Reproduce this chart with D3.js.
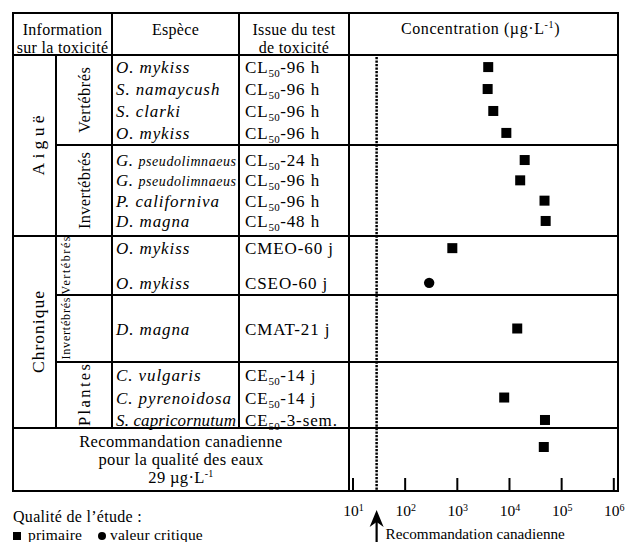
<!DOCTYPE html>
<html><head><meta charset="utf-8">
<script src="https://cdn.jsdelivr.net/npm/d3@7"></script>
<style>
body{margin:0;background:#fff}
svg{display:block}
text{font-family:"Liberation Serif","Times New Roman","DejaVu Serif",serif;fill:#000}
</style>
</head><body><script>
// ---------------- DATA ----------------
const groups = ["Aiguë", "Chronique"];
const subgroups = ["Vertébrés", "Invertébrés", "Vertébrés", "Invertébrés", "Plantes"];
const subgroupGroup = [0, 0, 1, 1, 1];
const species = ["O. mykiss", "S. namaycush", "S. clarki", "O. mykiss",
  "G. pseudolimnaeus", "G. pseudolimnaeus", "P. californiva", "D. magna",
  "O. mykiss", "O. mykiss", "D. magna",
  "C. vulgaris", "C. pyrenoidosa", "S. capricornutum"];
const tests = ["CL_50-96 h", "CL_50-96 h", "CL_50-96 h", "CL_50-96 h",
  "CL_50-24 h", "CL_50-96 h", "CL_50-96 h", "CL_50-48 h",
  "CMEO-60 j", "CSEO-60 j", "CMAT-21 j",
  "CE_50-14 j", "CE_50-14 j", "CE_50-3-sem."];
const rowSubgroup = [0, 0, 0, 0, 1, 1, 1, 1, 2, 2, 3, 4, 4, 4];
const concentrations = [4000, 3900, 5000, 8900, 20000, 16400, 48000, 50500, 820, 295, 14400, null, 8100, 49000];
const quality = ["primaire", "primaire", "primaire", "primaire", "primaire", "primaire", "primaire", "primaire",
  "primaire", "valeur critique", "primaire", "primaire", "primaire", "primaire"];
const guidelineValue = 29;
const guidelineRowValue = 46500;
const guidelineText = ["Recommandation canadienne", "pour la qualité des eaux", "29 µg·L|-1"];
const tickExponents = [1, 2, 3, 4, 5, 6];
const legendTitle = "Qualité de l’étude :";
const legendItems = ["primaire", "valeur critique"];
const smallEpithets = ["pseudolimnaeus"];

// ---------------- LAYOUT ----------------
const W = 626, H = 542;
const X = {left: 13, c1: 56, c2: 112, c3: 239, c4: 349, right: 618};
const Y = {top: 13, head: 55, rec: 428, bottom: 491};
const subBounds = [55, 145, 236, 295, 362, 428];
const subPadding = [0.55, 0.74, 0.35, 0.5, 0.47];
const subAlign = [0.5, 0.5, 0.5, 0.5, 0.62];
const subLabelLen = [66, 77, 58, 62, 62];
const groupLabelLen = [60, 82];

const svg = d3.select("body").append("svg").attr("width", W).attr("height", H);
const x = d3.scaleLog().domain([10, 1e6]).range([352.5, 613.3]);

// row positions
const rowY = new Array(species.length);
subgroups.forEach((s, i) => {
  const idx = d3.range(species.length).filter(r => rowSubgroup[r] === i);
  const sc = d3.scalePoint().domain(idx).range([subBounds[i], subBounds[i + 1]])
    .padding(subPadding[i]).align(subAlign[i]);
  idx.forEach(r => rowY[r] = sc(r));
});

// ---------------- GRID ----------------
const lines = [];
lines.push([X.left, Y.head, X.right, Y.head]);
for (let i = 1; i < subgroups.length; i++) {
  const startX = subgroupGroup[i] !== subgroupGroup[i - 1] ? X.left : X.c1;
  lines.push([startX, subBounds[i], X.right, subBounds[i]]);
}
lines.push([X.left, Y.rec, X.right, Y.rec]);
lines.push([X.c1, Y.head, X.c1, Y.rec]);
lines.push([X.c2, Y.top, X.c2, Y.rec]);
lines.push([X.c3, Y.top, X.c3, Y.rec]);
lines.push([X.c4, Y.top, X.c4, Y.bottom]);
svg.append("g").selectAll("line").data(lines).join("line")
  .attr("x1", d => d[0]).attr("y1", d => d[1]).attr("x2", d => d[2]).attr("y2", d => d[3])
  .attr("stroke", "#000").attr("stroke-width", 2);
svg.append("rect").attr("x", X.left).attr("y", Y.top).attr("width", X.right - X.left).attr("height", Y.bottom - Y.top)
  .attr("fill", "none").attr("stroke", "#000").attr("stroke-width", 2);

// ---------------- HEADER ----------------
const hdr = svg.append("g").attr("font-size", 16).attr("letter-spacing", 0.3).attr("text-anchor", "middle");
hdr.append("text").attr("x", (X.left + X.c2) / 2).attr("y", 35).text("Information");
hdr.append("text").attr("x", (X.left + X.c2) / 2).attr("y", 53).text("sur la toxicité");
hdr.append("text").attr("x", (X.c2 + X.c3) / 2).attr("y", 35).text("Espèce");
hdr.append("text").attr("x", (X.c3 + X.c4) / 2).attr("y", 35).text("Issue du test");
hdr.append("text").attr("x", (X.c3 + X.c4) / 2).attr("y", 53).text("de toxicité");
const ct = hdr.append("text").attr("x", (X.c4 + X.right) / 2 - 3).attr("y", 34).attr("letter-spacing", 0.6);
ct.append("tspan").text("Concentration (µg·L");
ct.append("tspan").attr("font-size", 10).attr("dy", -6).text("-1");
ct.append("tspan").attr("dy", 6).text(")");

// ---------------- ROTATED LABELS ----------------
groups.forEach((g, gi) => {
  const idx = d3.range(subgroups.length).filter(i => subgroupGroup[i] === gi);
  const y0 = subBounds[idx[0]], y1 = subBounds[idx[idx.length - 1] + 1];
  svg.append("text").attr("transform", `translate(38,${(y0 + y1) / 2}) rotate(-90)`)
    .attr("text-anchor", "middle").attr("dominant-baseline", "central")
    .attr("font-size", 17.5).attr("textLength", groupLabelLen[gi]).attr("lengthAdjust", "spacing").text(g);
});
subgroups.forEach((s, i) => {
  const y0 = subBounds[i], y1 = subBounds[i + 1];
  const small = (y1 - y0) < 70 && s.length > 8;
  svg.append("text").attr("transform", `translate(${small ? 65.5 : 84.5},${(y0 + y1) / 2}) rotate(-90)`)
    .attr("text-anchor", "middle").attr("dominant-baseline", "central")
    .attr("font-size", small ? 12 : 16.5).attr("textLength", subLabelLen[i]).attr("lengthAdjust", "spacing").text(s);
});

// fit helper: squeeze a text into an available width
function fit(sel, maxW) {
  sel.each(function () {
    const len = this.getComputedTextLength();
    if (len > maxW) d3.select(this).attr("letter-spacing", 0).attr("textLength", maxW).attr("lengthAdjust", "spacing")
      .selectAll("tspan").attr("letter-spacing", 0);
  });
}

// ---------------- SPECIES & TESTS ----------------
const sp = svg.append("g").selectAll("text").data(species).join("text")
  .attr("x", 116).attr("y", (d, i) => rowY[i] + 6)
  .attr("font-size", 17).attr("font-style", "italic").attr("letter-spacing", 0.9);
sp.each(function (d) {
  const k = d.indexOf(" ");
  const genus = d.slice(0, k), epi = d.slice(k + 1);
  const t = d3.select(this);
  t.append("tspan").text(genus + " ");
  t.append("tspan").attr("font-size", smallEpithets.includes(epi) ? 14 : 17)
    .attr("letter-spacing", smallEpithets.includes(epi) ? 0.6 : 0.9).text(epi);
});
fit(sp, X.c3 - 116 - 3);
const ts = svg.append("g").selectAll("text").data(tests).join("text")
  .attr("x", 245).attr("y", (d, i) => rowY[i] + 6)
  .attr("font-size", 17).attr("letter-spacing", 0.9);
ts.each(function (d) {
  const t = d3.select(this);
  const m = d.match(/^([^_]*)_(\d+)(.*)$/);
  if (m) {
    t.append("tspan").text(m[1]);
    t.append("tspan").attr("font-size", 11).attr("letter-spacing", 0.3).attr("dy", 4).text(m[2]);
    t.append("tspan").attr("dy", -4).text(m[3]);
  } else t.text(d);
});
fit(ts, X.c4 - 245 - 3);

// ---------------- GUIDELINE ROW ----------------
const gl = svg.append("g").attr("font-size", 16.5).attr("letter-spacing", 0.35).attr("text-anchor", "middle");
guidelineText.forEach((line, i) => {
  const t = gl.append("text").attr("x", (X.left + X.c4) / 2).attr("y", 447 + i * 18);
  const parts = line.split("|");
  t.append("tspan").text(parts[0]);
  if (parts[1]) t.append("tspan").attr("font-size", 10).attr("dy", -6).text(parts[1]);
});

// dotted guideline
svg.append("line").attr("x1", x(guidelineValue)).attr("x2", x(guidelineValue))
  .attr("y1", Y.head + 2).attr("y2", Y.bottom)
  .attr("stroke", "#000").attr("stroke-width", 2.5).attr("stroke-dasharray", "2.2,1.3");

// axis ticks
const axis = d3.axisTop(x).tickValues(tickExponents.map(e => Math.pow(10, e))).tickSize(13).tickFormat("");
const ag = svg.append("g").attr("transform", `translate(0,${Y.bottom})`).call(axis);
ag.select(".domain").remove();
ag.selectAll(".tick line").attr("stroke", "#000").attr("stroke-width", 2);

// tick labels
const tl = svg.append("g").selectAll("text").data(tickExponents).join("text")
  .attr("x", e => x(Math.pow(10, e)) + 1).attr("y", 516).attr("text-anchor", "middle").attr("font-size", 15.5);
tl.append("tspan").text("10");
tl.append("tspan").attr("font-size", 10).attr("dy", -5).text(e => e);

// arrow
const ax = x(guidelineValue);
svg.append("line").attr("x1", ax).attr("x2", ax).attr("y1", 520).attr("y2", H).attr("stroke", "#000").attr("stroke-width", 2.2);
svg.append("path").attr("d", `M${ax},510 L${ax + 7},527 L${ax},522 L${ax - 7},527 Z`).attr("fill", "#000");
svg.append("text").attr("x", ax + 9).attr("y", 539).attr("font-size", 15.2).text("Recommandation canadienne");

// ---------------- MARKERS ----------------
const pts = d3.range(species.length).filter(i => concentrations[i] != null);
const mk = svg.append("g");
mk.selectAll("rect").data(pts.filter(i => quality[i] === "primaire")).join("rect")
  .attr("x", i => x(concentrations[i]) - 5).attr("y", i => rowY[i] - 5)
  .attr("width", 10).attr("height", 10).attr("fill", "#000");
mk.selectAll("circle").data(pts.filter(i => quality[i] === "valeur critique")).join("circle")
  .attr("cx", i => x(concentrations[i])).attr("cy", i => rowY[i]).attr("r", 5.2).attr("fill", "#000");
mk.append("rect").attr("x", x(guidelineRowValue) - 5).attr("y", Y.rec + 14).attr("width", 10).attr("height", 10).attr("fill", "#000");

// ---------------- LEGEND ----------------
svg.append("text").attr("x", 13).attr("y", 521.5).attr("font-size", 16).attr("letter-spacing", 0.3).text(legendTitle);
const lg = svg.append("g").selectAll("g").data(legendItems).join("g")
  .attr("transform", (d, i) => `translate(${i === 0 ? 17 : 102},536)`);
lg.filter((d, i) => i === 0).append("rect").attr("x", -4).attr("y", -4).attr("width", 8).attr("height", 8).attr("fill", "#000");
lg.filter((d, i) => i === 1).append("circle").attr("r", 4).attr("fill", "#000");
lg.append("text").attr("x", (d, i) => i === 0 ? 11 : 8).attr("y", 4).attr("font-size", 15.5).attr("letter-spacing", 0.2).text(d => d);
</script></body></html>
